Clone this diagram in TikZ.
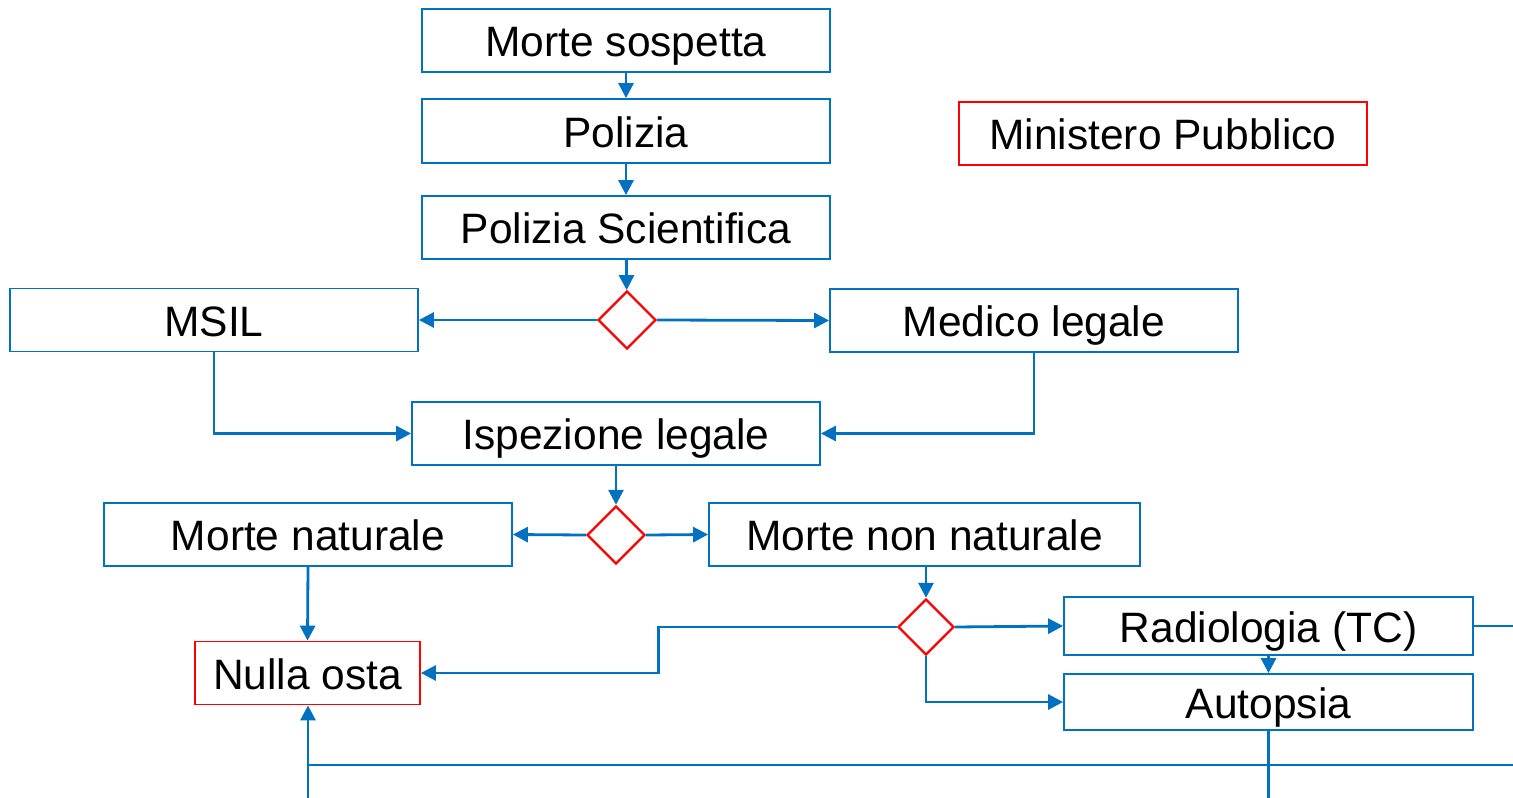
\documentclass[tikz,border=0pt]{standalone}
\usepackage{fontspec}
\setmainfont{Liberation Sans}
\usetikzlibrary{shapes.geometric,arrows.meta,calc}
\definecolor{lblue}{HTML}{0070C0}
\definecolor{lred}{HTML}{FF0000}
\tikzset{
  box/.style={draw=lblue, line width=1.8pt, inner sep=0pt, minimum width=408pt, minimum height=63pt, text height=32pt, text depth=0pt, font=\fontsize{42.5}{48}\selectfont, text=black},
  redbox/.style={box, draw=lred},
  dec/.style={draw=lred, line width=2.4pt, shape=diamond, inner sep=0pt, minimum width=58pt, minimum height=58pt},
  conn/.style={draw=lblue, line width=2.8pt},
  arr/.style={conn, -{Triangle[length=15pt,width=15pt]}}
}
\begin{document}
\begin{tikzpicture}[x=1pt,y=-1pt]
\useasboundingbox (0,0) rectangle (1513,798);
\node[box] (ms) at (626,40.5) {Morte sospetta};
\node[box, minimum height=64pt] (pol) at (626,131) {Polizia};
\node[box] (ps) at (626,227.5) {Polizia Scientifica};
\node[redbox] (mp) at (1163,133.5) {Ministero Pubblico};
\node[box] (msil) at (214,320) {MSIL};
\node[dec] (d1) at (627,320) {};
\node[box] (ml) at (1034,320.5) {Medico legale};
\node[box] (il) at (616,433.5) {Ispezione legale};
\node[box] (mnat) at (308,534.5) {Morte naturale};
\node[dec] (d2) at (616,535) {};
\node[box, minimum width=431pt] (mnn) at (924.5,534.5) {Morte non naturale};
\node[dec, minimum width=56pt, minimum height=56pt] (d3) at (926,627) {};
\node[box, minimum width=409pt, minimum height=58pt] (rad) at (1268.5,626) {Radiologia (TC)};
\node[box, minimum width=409pt, minimum height=56pt] (aut) at (1268.5,702) {Autopsia};
\node[redbox, minimum width=225pt] (no) at (307.5,673) {Nulla osta};
\coordinate (eR) at (1513,626);
\coordinate (eB) at (aut.south |- 0,798);
\coordinate (eL) at (308,798);
\coordinate (j) at (308,765);
\coordinate (eJ) at (1513,765);
\draw[arr] (ms) -- (pol);
\draw[arr] (pol) -- (ps);
\draw[arr] (ps) -- (d1);
\draw[arr] (d1.west) -- (msil.east);
\draw[arr] (d1.east) -- (ml.west);
\draw[arr] (msil.south) |- (il.west);
\draw[arr] (ml.south) |- (il.east);
\draw[arr] (il) -- (d2);
\draw[arr] (d2.west) -- (mnat.east);
\draw[arr] (d2.east) -- (mnn.west);
\draw[arr] (mnat.south) -- (no.north);
\draw[arr] (mnn.south -| d3) -- (d3.north);
\draw[arr] (d3.west) -| ($(d3.west)!.5!(no.east)$) |- (no.east);
\draw[arr] (d3.east) -- (rad.west);
\draw[arr] (d3.south) |- (aut.west);
\draw[arr] (rad) -- (aut);
\draw[conn] (rad.east) -- (eR);
\draw[conn] (aut.south) -- (eB);
\draw[conn] (j) -- (eJ);
\draw[arr] (eL) -- (no.south -| eL);
\end{tikzpicture}
\end{document}
